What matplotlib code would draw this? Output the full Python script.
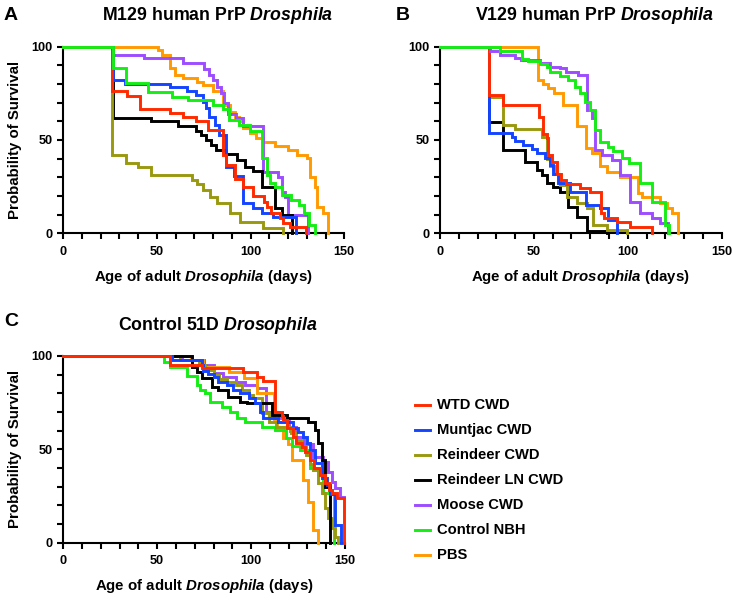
import matplotlib
matplotlib.use("Agg")
import matplotlib.pyplot as plt
from matplotlib.lines import Line2D
from matplotlib.ticker import MultipleLocator

# ---------------------------------------------------------------------------
# Kaplan-Meier data (days, % surviving)
# ---------------------------------------------------------------------------

groups = ["WTD CWD", "Muntjac CWD", "Reindeer CWD", "Reindeer LN CWD",
          "Moose CWD", "Control NBH", "PBS"]
colors = ["#FF2A00", "#1444FF", "#999910", "#000000",
          "#9D4CFF", "#14EE14", "#FF9A00"]

# Panel A - M129 human PrP
a_wtd_days = [0, 26.2, 34, 41, 57, 64, 71, 77, 85.5, 87, 91.6, 96, 101.5, 107, 108.5, 111, 115.5, 117.5, 121, 129.5]
a_wtd_surv = [100, 76, 73.6, 66.4, 64.6, 62.5, 60, 55.4, 42, 36.6, 29, 24.6, 20, 17, 14.3, 10.7, 8, 5.4, 3.6, 0]
a_mun_days = [0, 26.3, 33, 57, 66, 71, 74.7, 76, 78, 81, 83, 87, 91, 96, 101, 106, 112, 124]
a_mun_surv = [100, 82, 80, 78.2, 76.4, 74, 70.5, 67, 62.5, 58, 52.7, 35.7, 30.7, 16, 13.4, 10.7, 8.9, 0]
a_rei_days = [0, 26.2, 33.4, 40, 47, 68.5, 71.2, 74.7, 78.3, 81.8, 89, 94.3, 106.7, 117.4]
a_rei_surv = [100, 42, 37.5, 35.7, 31.3, 28.6, 26.5, 23, 19.6, 16, 10.7, 6.25, 2.7, 0]
a_rln_days = [0, 26.3, 47, 61.4, 71, 73.6, 76, 79, 81.5, 87, 92.5, 97, 101.5, 106, 113, 116.5, 122]
a_rln_surv = [100, 62, 60.2, 57.5, 55, 52.7, 50, 47.3, 44.6, 42.3, 39.3, 35.7, 33.4, 25, 13.4, 9.8, 0]
a_moo_days = [0, 26, 43, 64, 75, 78, 80, 82, 84, 86, 88, 92, 96, 106.5, 114.7, 116.5, 118.3, 120, 130.8]
a_moo_surv = [100, 95.5, 93.7, 91, 88, 85, 82, 78.6, 75, 69.6, 64, 61.6, 57.5, 33, 30.4, 22.3, 19.6, 9.8, 0]
a_nbh_days = [0, 26.3, 33.4, 45.4, 57.8, 66.7, 80, 85, 88.5, 94, 99.6, 106, 108.5, 110.5, 113, 116.5, 121.5, 126, 128.5, 131, 134.3]
a_nbh_surv = [100, 88.7, 80.4, 75.9, 73.2, 71.4, 68.8, 66.4, 60.7, 58, 55, 40.2, 31.3, 26.8, 24.6, 20.5, 17.9, 15.2, 10.7, 4.5, 0]
a_pbs_days = [0, 50.7, 52.5, 57, 59.6, 64, 71.2, 74.7, 80, 85.4, 88.9, 91.6, 94, 96, 99.6, 103, 106.7, 113, 120, 124.5, 129.9, 131.6, 134.3, 135.2, 138.8, 141.5]
a_pbs_surv = [100, 98, 95.5, 88.4, 84.8, 83, 81, 79.5, 76.5, 68.75, 65.2, 62.5, 60, 56.25, 53.6, 51.2, 49.1, 46.8, 44.6, 42, 40.2, 30.4, 25, 14.3, 10.7, 0]

# Panel B - V129 human PrP
b_wtd_days = [0, 26.3, 33.4, 52.9, 55, 56.8, 57.7, 59.5, 62.1, 64.5, 67, 74.6, 79.9, 85.5, 87.5, 94, 101, 112.7]
b_wtd_surv = [100, 74, 68.75, 62.5, 53, 51, 42, 38, 32, 28.6, 26.4, 24.1, 22, 10.7, 8, 6.25, 3.6, 0]
b_mun_days = [0, 26.3, 38.2, 40, 44.4, 48.8, 51.5, 55.9, 58.6, 60.4, 63, 69, 78, 85.2, 89.6, 94]
b_mun_surv = [100, 53.6, 51.8, 49.6, 47.3, 45, 42.9, 40.2, 36.6, 32, 26.8, 22.3, 15.2, 13.4, 7, 0]
b_rei_days = [0, 26.3, 33.4, 39.9, 54.1, 56.8, 58.5, 61, 64, 67.5, 72.8, 78.1, 81.7, 88.8, 99.4]
b_rei_surv = [100, 73, 58, 55.7, 51.8, 40, 36, 32, 26, 19.6, 16, 13.4, 4.5, 1.8, 0]
b_rln_days = [0, 26.3, 33.4, 45.3, 51.5, 54.1, 56.8, 60.4, 64, 68.3, 72.8, 78.1, 88.8]
b_rln_surv = [100, 59.8, 44.6, 38.4, 33.9, 31.25, 26.8, 25, 22.3, 14.3, 8.9, 1.5, 0]
b_moo_days = [0, 26.6, 32, 40, 43, 53.3, 58.6, 64, 67, 73.7, 78.1, 80.8, 82.5, 86.1, 91.4, 95.9, 101.2, 106.5, 112.7, 117.2, 121.6]
b_moo_surv = [100, 97.7, 95.5, 93.7, 92.9, 91, 89.3, 88.4, 86.6, 84.8, 66, 61.6, 44.6, 42, 39.3, 31.25, 17, 10.7, 8, 5.7, 0]
b_nbh_days = [0, 32, 43.5, 47, 53, 56.8, 58.6, 63.9, 68.3, 71.9, 74.6, 77.2, 79.9, 82.5, 85.2, 89.6, 92.3, 96.7, 100.5, 106.5, 112.7, 119.8, 122.1]
b_nbh_surv = [100, 97.7, 93.2, 92.5, 90.7, 88.9, 86.6, 84.3, 82, 78.6, 75, 70.5, 66, 55.4, 49, 46.4, 44.3, 40.2, 37.5, 26.8, 17, 4.5, 0]
b_pbs_days = [0, 52.4, 55, 57.5, 60.5, 65.7, 72.8, 77.7, 80.8, 85.2, 88.8, 95.9, 105.6, 107.4, 117.2, 120.7, 123.4, 126.9]
b_pbs_surv = [100, 82, 80, 77.7, 75.4, 68.75, 57.5, 45.5, 42.9, 36, 33, 30.4, 21.4, 19.6, 16, 13.4, 10.7, 0]

# Panel C - Control 51D
c_wtd_days = [0, 56.8, 73.7, 95.9, 103, 106.5, 112.7, 116.3, 117.2, 118.9, 122.5, 123.9, 126.9, 128.7, 131.4, 133.7, 136.7, 139.3, 141.7, 143, 145.6, 149.6]
c_wtd_surv = [100, 95, 93.4, 91.2, 89, 86.8, 70.2, 67.9, 65.7, 61.25, 56.8, 53.2, 51.4, 48.75, 44.3, 39.8, 36.25, 31.8, 28.2, 26.5, 23.8, 0]
c_mun_days = [0, 57.7, 73.6, 74.5, 77, 80, 82.5, 87, 90.5, 94, 99, 102, 105, 106.5, 114.5, 122.5, 125, 127.9, 129.7, 131.4, 134.1, 137.6, 140.3, 142.1, 144.7, 147.8]
c_mun_surv = [100, 97.9, 95, 92, 90.2, 89, 86.2, 84.5, 81.8, 80, 77.3, 74.6, 70, 66.6, 64.8, 61.25, 59.5, 56.8, 53.2, 49.6, 42.5, 34.4, 31, 26, 9.5, 0]
c_rei_days = [0, 62, 72, 75.5, 80, 83, 87, 92, 95, 99, 101, 105.7, 109.3, 113, 120.5, 121.5, 124, 126.5, 129, 131.4, 133.2, 135.8, 137.6, 139.4, 141.2, 143, 144.7, 146.5]
c_rei_surv = [100, 97.9, 95, 92.5, 90, 87.5, 86, 84.5, 82, 79, 77.3, 69.5, 64.8, 62.1, 60, 58.6, 55, 51.5, 47, 42, 39, 31.8, 26.5, 18.4, 13, 8, 3, 0]
c_rln_days = [0, 68.3, 71, 74, 79, 82.5, 87.5, 94, 98, 111, 119, 130.5, 134, 135.8, 137.6, 139.4, 142.1]
c_rln_surv = [100, 94, 91.6, 88, 83.5, 81.8, 78.2, 75.5, 74.6, 68.5, 66.6, 64.8, 60.4, 53.2, 44.3, 30, 0]
c_moo_days = [0, 63, 75, 80, 85, 92, 97, 103, 108, 115, 120, 124, 128, 133, 138.5, 141.2, 143, 144.7, 147.4, 149.7]
c_moo_surv = [100, 97.9, 95, 91, 88.8, 86, 84.5, 82.7, 70, 66.6, 62, 56.8, 53, 46, 43.4, 38, 32.7, 29.1, 24.6, 24.6]
c_nbh_days = [0, 53.8, 56.8, 65.7, 71, 72.8, 75.4, 78.1, 84.3, 88.8, 92.3, 96.7, 105.6, 112.7, 118.5, 122, 126, 131.4, 138.5, 144]
c_nbh_surv = [100, 96.9, 93.9, 89.3, 84.5, 81.8, 80, 75.5, 72.9, 70.2, 66.6, 64.8, 62.1, 60.4, 56, 52, 49.6, 39.8, 26.4, 0]
c_pbs_days = [0, 68, 74.6, 88, 96, 103, 112, 114, 117, 119.5, 121.6, 127.8, 130.5, 133.1, 135.8]
c_pbs_surv = [100, 97.9, 94, 91.6, 88, 80.3, 66, 62, 56, 53, 44.3, 33.6, 22, 6.8, 0]

panel_a = [(a_wtd_days, a_wtd_surv), (a_mun_days, a_mun_surv), (a_rei_days, a_rei_surv),
           (a_rln_days, a_rln_surv), (a_moo_days, a_moo_surv), (a_nbh_days, a_nbh_surv),
           (a_pbs_days, a_pbs_surv)]
panel_b = [(b_wtd_days, b_wtd_surv), (b_mun_days, b_mun_surv), (b_rei_days, b_rei_surv),
           (b_rln_days, b_rln_surv), (b_moo_days, b_moo_surv), (b_nbh_days, b_nbh_surv),
           (b_pbs_days, b_pbs_surv)]
panel_c = [(c_wtd_days, c_wtd_surv), (c_mun_days, c_mun_surv), (c_rei_days, c_rei_surv),
           (c_rln_days, c_rln_surv), (c_moo_days, c_moo_surv), (c_nbh_days, c_nbh_surv),
           (c_pbs_days, c_pbs_surv)]

# drawing order (first = bottom)
order_a = [6, 4, 3, 2, 1, 0, 5]
order_b = [6, 3, 2, 1, 0, 4, 5]
order_c = [4, 6, 5, 2, 3, 1, 0]

plt.rcParams["font.family"] = ["Liberation Sans", "DejaVu Sans"]
plt.rcParams["font.weight"] = "bold"
plt.rcParams["mathtext.fontset"] = "custom"
plt.rcParams["mathtext.it"] = "Liberation Sans:italic:bold"
plt.rcParams["mathtext.rm"] = "Liberation Sans:bold"
plt.rcParams["mathtext.bf"] = "Liberation Sans:bold"

W, H = 733, 600
fig = plt.figure(figsize=(W / 100, H / 100), dpi=100)


def px_axes(x0, x1, ytop, ybot):
    return fig.add_axes([x0 / W, 1 - ybot / H, (x1 - x0) / W, (ybot - ytop) / H])


def draw_panel(ax, data, order, title, letter, ylabel=True):
    for k, i in enumerate(order):
        days, surv = data[i]
        ax.step(days, surv, where="post", color=colors[i], lw=2.1,
                zorder=3 + k, clip_on=False, solid_joinstyle="miter")
    ax.set_xlim(0, 150)
    ax.set_ylim(0, 100)
    for s in ("top", "right"):
        ax.spines[s].set_visible(False)
    for s in ("left", "bottom"):
        ax.spines[s].set_linewidth(1.5)
        ax.spines[s].set_zorder(2)
    ax.xaxis.set_major_locator(MultipleLocator(50))
    ax.xaxis.set_minor_locator(MultipleLocator(10))
    ax.yaxis.set_major_locator(MultipleLocator(50))
    ax.yaxis.set_minor_locator(MultipleLocator(10))
    ax.tick_params(which="both", direction="out", length=4, width=1.5,
                   labelsize=9.2)
    ax.tick_params(axis="x", pad=5)
    ax.tick_params(axis="y", pad=3.5)
    ax.set_xlabel("Age of adult $\\mathit{Drosophila}$ (days)", fontsize=10.8,
                  fontweight="bold")
    ax.xaxis.set_label_coords(0.5, -0.185)
    if ylabel:
        ax.set_ylabel("Probability of Survival", fontsize=10.8, fontweight="bold")
        ax.yaxis.set_label_coords(-0.147, 0.5)
    ax.text(0.55, 1.165, title, transform=ax.transAxes, ha="center", va="center",
            fontsize=12.8, fontweight="bold")
    ax.text(letter[0], letter[1], letter[2], transform=fig.transFigure,
            ha="left", va="center", fontsize=14, fontweight="bold")


ax_a = px_axes(63.3, 344.3, 46.7, 233.3)
draw_panel(ax_a, panel_a, order_a, "M129 human PrP $\\mathit{Drosphila}$",
           (4 / W, 1 - 15 / H, "A"))

ax_b = px_axes(440, 721.7, 46.7, 233.3)
draw_panel(ax_b, panel_b, order_b, "V129 human PrP $\\mathit{Drosophila}$",
           (396 / W, 1 - 15 / H, "B"), ylabel=False)

ax_c = px_axes(63.3, 345, 356, 542.7)
draw_panel(ax_c, panel_c, order_c, "Control 51D $\\mathit{Drosophila}$",
           (4 / W, 1 - 322 / H, "C"))

# legend
leg_y0, leg_dy = 405, 25
for i, name in enumerate(groups):
    y = 1 - (leg_y0 + i * leg_dy) / H
    fig.add_artist(Line2D([415 / W, 430 / W], [y, y], color=colors[i], lw=2.1))
    fig.text(437 / W, y, name, ha="left", va="center", fontsize=10.6,
             fontweight="bold")

fig.savefig("out.png", dpi=100)
